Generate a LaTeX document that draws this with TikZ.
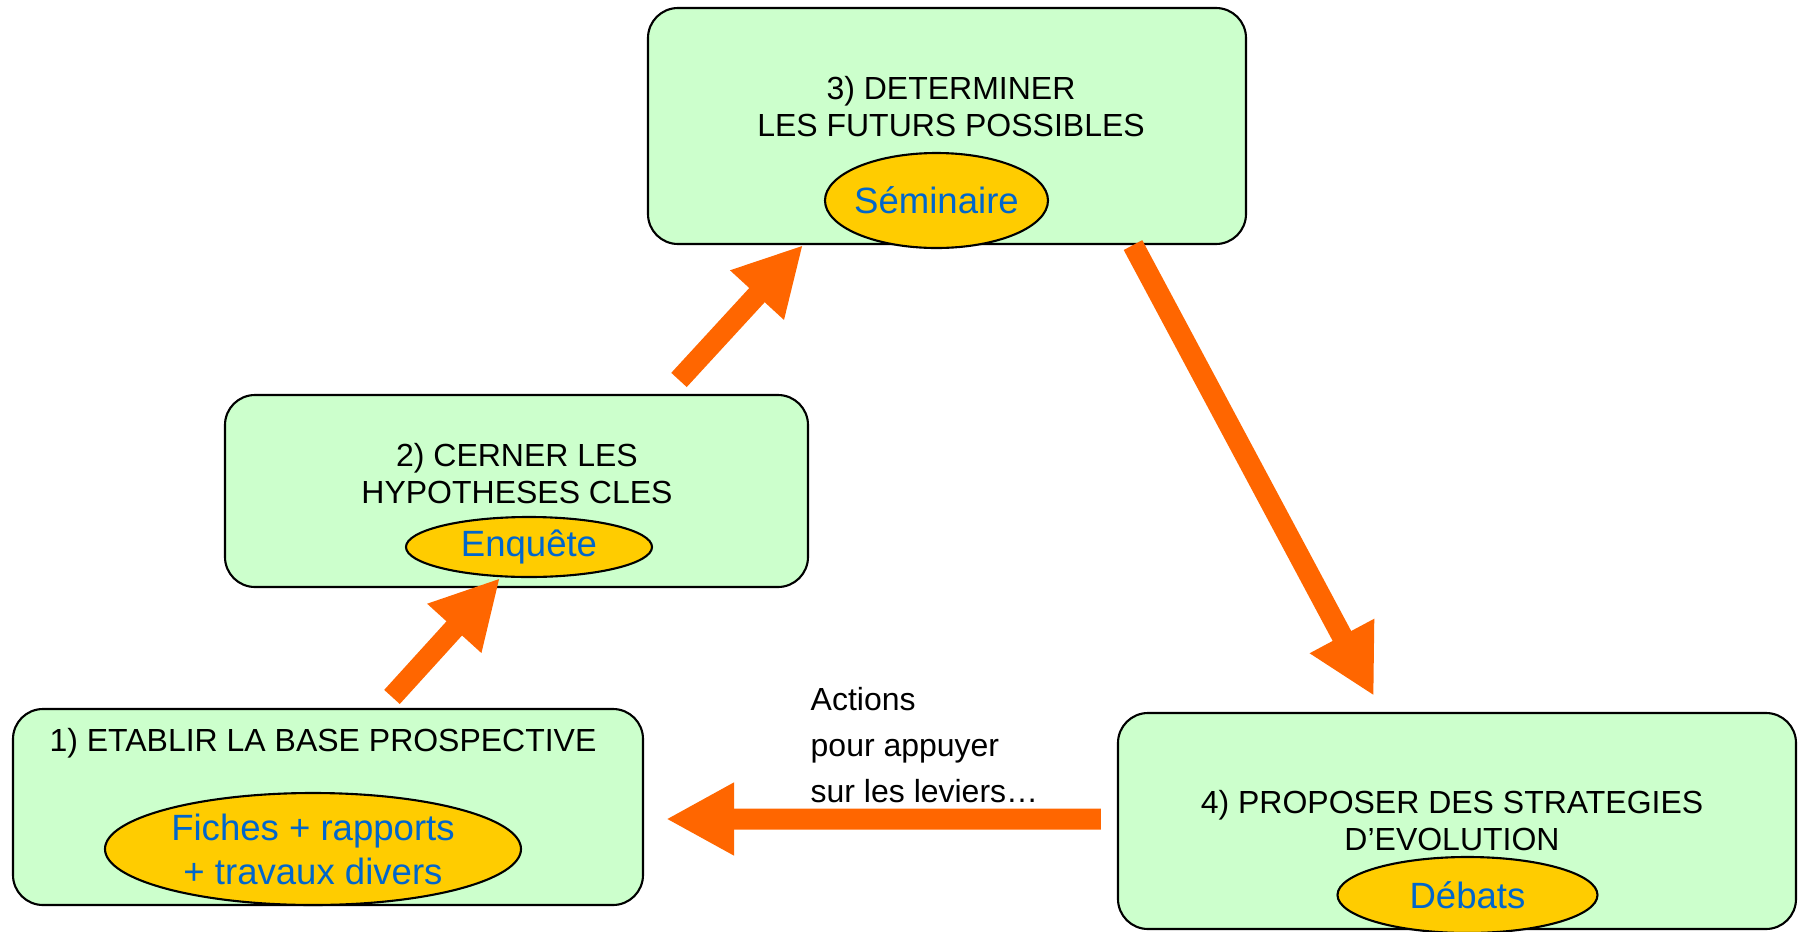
\documentclass[tikz,border=0pt]{standalone}
\usepackage{fontspec}
\setmainfont{Liberation Sans}
\usepackage{tikz}
\usetikzlibrary{arrows.meta,shapes.geometric}
\definecolor{stagegreen}{HTML}{CCFFCC}
\definecolor{toolgold}{HTML}{FFCC00}
\definecolor{toolblue}{HTML}{0066CC}
\definecolor{floworange}{HTML}{FF6600}

\begin{document}
\begin{tikzpicture}[
  stage/.style={draw,line width=0.6pt,fill=stagegreen,rounded corners=0.3cm},
  heading/.style={align=center,inner sep=0pt,font=\fontsize{9.1}{10.5}\selectfont},
  tool/.style={ellipse,draw,line width=0.6pt,fill=toolgold,text=toolblue,inner sep=0pt,align=center,font=\fontsize{10.4}{12.5}\selectfont},
  flow/.style={draw=floworange,line width=0.21cm,-{Triangle[width=0.68cm,length=0.68cm]}}]
  \useasboundingbox (0,0) rectangle (18.03,9.31);
  \node[stage,minimum width=5.98cm,minimum height=2.36cm] (b3) at (9.47,8.05) {};
  \node[heading] (t3) at (9.51,8.24) {3) DETERMINER\\LES FUTURS POSSIBLES};
  \node[tool,inner xsep=-0.04cm,minimum width=2.23cm,minimum height=0.95cm] (e3) at (9.365,7.305) {Séminaire};
  \node[stage,minimum width=5.83cm,minimum height=1.92cm] (b2) at (5.165,4.40) {};
  \node[heading] (t2) at (5.17,4.57) {2) CERNER LES\\HYPOTHESES CLES};
  \node[tool,minimum width=2.46cm,minimum height=0.60cm] (e2) at (5.29,3.84) {Enquête};
  \node[stage,minimum width=6.30cm,minimum height=1.96cm] (b1) at (3.28,1.24) {};
  \node[heading] (t1) at (3.23,1.88) {1) ETABLIR LA BASE PROSPECTIVE};
  \node[tool,minimum width=4.16cm,minimum height=1.12cm] (e1) at (3.13,0.82) {Fiches + rapports\\+ travaux divers};
  \node[stage,minimum width=6.78cm,minimum height=2.16cm] (b4) at (14.57,1.10) {};
  \node[heading] (t4) at (14.52,1.10) {4) PROPOSER DES STRATEGIES\\D’EVOLUTION};
  \node[tool,minimum width=2.60cm,minimum height=0.76cm] (e4) at (14.675,0.36) {Débats};
  \node[heading,align=left,anchor=west,font=\fontsize{9.1}{13.2}\selectfont] (act) at (8.10,1.86) {Actions\\pour appuyer\\sur les leviers…};
  \draw[flow] ([shift={(0.64,0.11)}]b1.north) -- ([xshift=-0.29cm]e2.south);
  \draw[flow] ([shift={(1.625,0.14)}]b2.north) -- ([xshift=-1.44cm]b3.south);
  \draw[flow] ([xshift=1.86cm]b3.south) -- ([shift={(-0.83,0.16)}]b4.north);
  \draw[flow] ([shift={(-0.16,0.02)}]b4.west) -- ([shift={(0.22,-0.12)}]b1.east);
\end{tikzpicture}
\end{document}
